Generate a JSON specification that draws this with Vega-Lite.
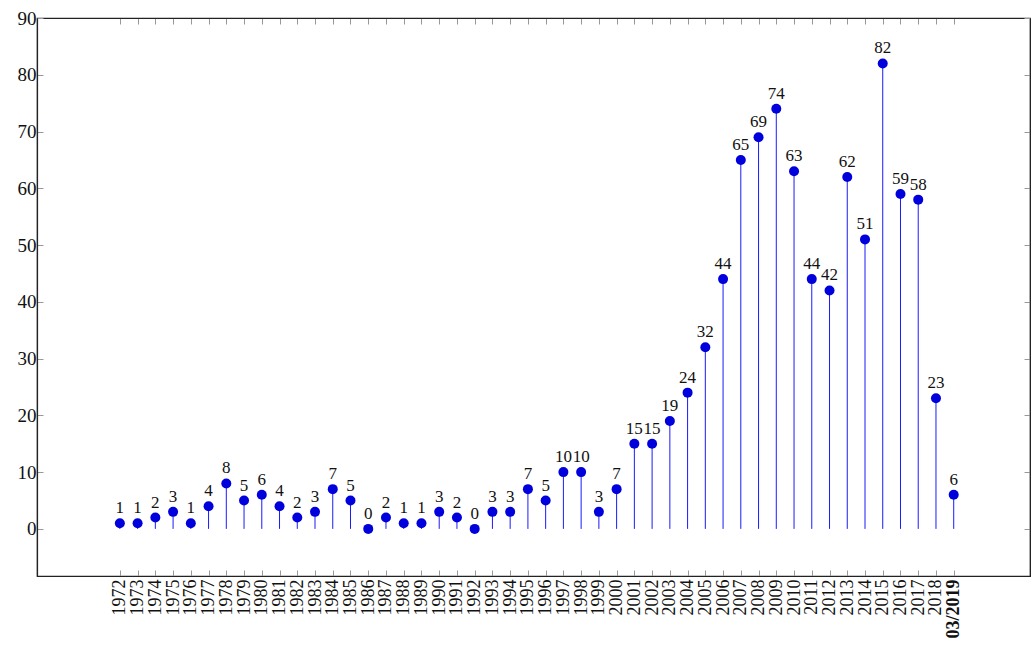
{
  "$schema": "https://vega.github.io/schema/vega-lite/v6.json",
  "width": 993,
  "height": 558,
  "autosize": {"type": "none"},
  "padding": {"left": 37, "top": 18, "right": 1, "bottom": 84},
  "config": {
    "view": {"stroke": "#222", "strokeWidth": 1.2},
    "font": "Liberation Serif",
    "axis": {"grid": false, "domainColor": "#222", "domainWidth": 1.2, "labelFont": "Liberation Serif", "labelColor": "#111"}
  },
  "data": {"values": [
    {"year": 1972, "n": 1}, {"year": 1973, "n": 1}, {"year": 1974, "n": 2}, {"year": 1975, "n": 3},
    {"year": 1976, "n": 1}, {"year": 1977, "n": 4}, {"year": 1978, "n": 8}, {"year": 1979, "n": 5},
    {"year": 1980, "n": 6}, {"year": 1981, "n": 4}, {"year": 1982, "n": 2}, {"year": 1983, "n": 3},
    {"year": 1984, "n": 7}, {"year": 1985, "n": 5}, {"year": 1986, "n": 0}, {"year": 1987, "n": 2},
    {"year": 1988, "n": 1}, {"year": 1989, "n": 1}, {"year": 1990, "n": 3}, {"year": 1991, "n": 2},
    {"year": 1992, "n": 0}, {"year": 1993, "n": 3}, {"year": 1994, "n": 3}, {"year": 1995, "n": 7},
    {"year": 1996, "n": 5}, {"year": 1997, "n": 10}, {"year": 1998, "n": 10}, {"year": 1999, "n": 3},
    {"year": 2000, "n": 7}, {"year": 2001, "n": 15}, {"year": 2002, "n": 15}, {"year": 2003, "n": 19},
    {"year": 2004, "n": 24}, {"year": 2005, "n": 32}, {"year": 2006, "n": 44}, {"year": 2007, "n": 65},
    {"year": 2008, "n": 69}, {"year": 2009, "n": 74}, {"year": 2010, "n": 63}, {"year": 2011, "n": 44},
    {"year": 2012, "n": 42}, {"year": 2013, "n": 62}, {"year": 2014, "n": 51}, {"year": 2015, "n": 82},
    {"year": 2016, "n": 59}, {"year": 2017, "n": 58}, {"year": 2018, "n": 23}, {"year": 2019, "n": 6}
  ]},
  "resolve": {"axis": {"x": "independent", "y": "independent"}},
  "layer": [
    {
      "mark": {"type": "rule", "color": "#1a1aff", "strokeWidth": 1},
      "encoding": {
        "x": {"field": "year", "type": "quantitative",
          "scale": {"domain": [1967.33, 2023.3], "nice": false, "zero": false},
          "axis": {"orient": "bottom", "title": null,
            "values": [1972,1973,1974,1975,1976,1977,1978,1979,1980,1981,1982,1983,1984,1985,1986,1987,1988,1989,1990,1991,1992,1993,1994,1995,1996,1997,1998,1999,2000,2001,2002,2003,2004,2005,2006,2007,2008,2009,2010,2011,2012,2013,2014,2015,2016,2017,2018,2019],
            "format": "d", "labelExpr": "datum.value == 2019 ? '03/2019' : datum.label",
            "labelAngle": -90, "labelAlign": "right", "labelBaseline": "middle",
            "labelFontSize": 18, "labelPadding": 9, "labelOverlap": false, "labelFlush": false,
            "labelFontWeight": {"condition": {"test": "datum.value == 2019", "value": "bold"}, "value": "normal"},
            "tickSize": -6, "tickColor": "#999", "tickWidth": 1}},
        "y": {"field": "n", "type": "quantitative",
          "scale": {"domain": [-8.3, 90], "nice": false, "zero": false},
          "axis": {"orient": "left", "title": null, "values": [0,10,20,30,40,50,60,70,80,90],
            "labelFontSize": 19, "labelPadding": 7, "tickSize": -6, "tickColor": "#999", "tickWidth": 1}},
        "y2": {"datum": 0}
      }
    },
    {
      "mark": {"type": "point", "filled": true, "opacity": 1, "color": "#0000dd", "size": 100},
      "encoding": {
        "x": {"field": "year", "type": "quantitative",
          "axis": {"orient": "top", "title": null, "labels": false,
            "values": [1972,1973,1974,1975,1976,1977,1978,1979,1980,1981,1982,1983,1984,1985,1986,1987,1988,1989,1990,1991,1992,1993,1994,1995,1996,1997,1998,1999,2000,2001,2002,2003,2004,2005,2006,2007,2008,2009,2010,2011,2012,2013,2014,2015,2016,2017,2018,2019],
            "tickSize": -6, "tickColor": "#999", "tickWidth": 1}},
        "y": {"field": "n", "type": "quantitative",
          "axis": {"orient": "right", "title": null, "labels": false, "values": [0,10,20,30,40,50,60,70,80,90],
            "tickSize": -6, "tickColor": "#999", "tickWidth": 1}}
      }
    },
    {
      "mark": {"type": "text", "dy": -15, "fontSize": 17, "color": "#111", "font": "Liberation Serif"},
      "encoding": {
        "x": {"field": "year", "type": "quantitative", "axis": null},
        "y": {"field": "n", "type": "quantitative", "axis": null},
        "text": {"field": "n", "type": "quantitative"}
      }
    }
  ]
}
